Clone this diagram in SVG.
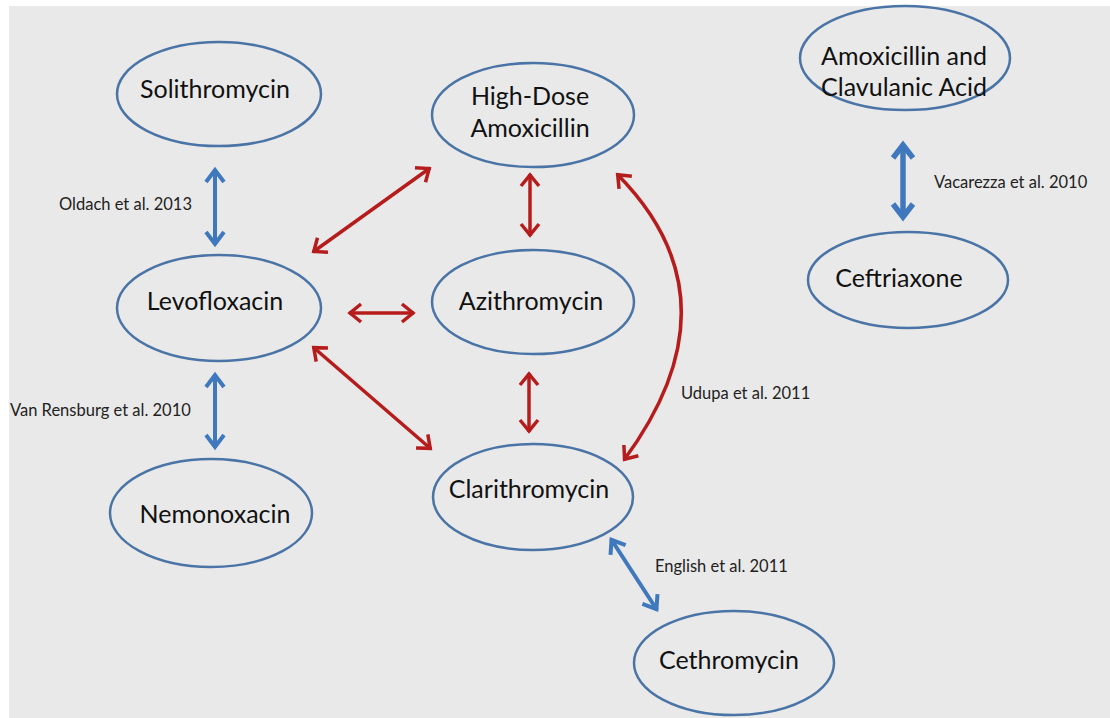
<svg xmlns="http://www.w3.org/2000/svg" width="1110" height="718" viewBox="0 0 1110 718">
<style>
.node ellipse{fill:none;stroke:#4a74a6;stroke-width:2.5}
.node text{font-family:Lato,"Open Sans",sans-serif;font-size:25px;fill:#111;text-anchor:middle}
.lbl{font-family:Lato,"Open Sans",sans-serif;font-size:16.5px;fill:#222}
.red{fill:none;stroke:#b71c1c;stroke-width:3.5}
.blue{fill:none;stroke:#3f78bd;stroke-width:4}
</style>
<defs>
<marker id="ar" markerUnits="userSpaceOnUse" markerWidth="30" markerHeight="30" refX="1" refY="0" orient="auto-start-reverse" overflow="visible">
<path d="M-11,-9 L0,0 L-11,9" fill="none" stroke="#b71c1c" stroke-width="3.5"/>
</marker>
<marker id="ab" markerUnits="userSpaceOnUse" markerWidth="30" markerHeight="30" refX="1" refY="0" orient="auto-start-reverse" overflow="visible">
<path d="M-12,-9 L0,0 L-12,9" fill="none" stroke="#3f78bd" stroke-width="4"/>
</marker>
<marker id="ab2" markerUnits="userSpaceOnUse" markerWidth="30" markerHeight="30" refX="1" refY="0" orient="auto-start-reverse" overflow="visible">
<path d="M-13,-10 L0,0 L-13,10" fill="none" stroke="#3f78bd" stroke-width="5.5"/>
</marker>
</defs>
<rect x="9" y="6" width="1101" height="712" fill="#e9e9e9"/>
<g id="connectors">
<line class="blue" x1="215" y1="169" x2="215" y2="245" marker-start="url(#ab)" marker-end="url(#ab)"/>
<line class="blue" x1="215" y1="374" x2="215" y2="448" marker-start="url(#ab)" marker-end="url(#ab)"/>
<line class="blue" style="stroke-width:5.5" x1="903" y1="144" x2="903" y2="218" marker-start="url(#ab2)" marker-end="url(#ab2)"/>
<line class="blue" x1="611" y1="539" x2="657" y2="610" marker-start="url(#ab)" marker-end="url(#ab)"/>
<line class="red" x1="313" y1="252" x2="430" y2="168" marker-start="url(#ar)" marker-end="url(#ar)"/>
<line class="red" x1="349" y1="313" x2="414" y2="313" marker-start="url(#ar)" marker-end="url(#ar)"/>
<line class="red" x1="313" y1="347" x2="431" y2="449" marker-start="url(#ar)" marker-end="url(#ar)"/>
<line class="red" x1="530" y1="174" x2="530" y2="236" marker-start="url(#ar)" marker-end="url(#ar)"/>
<line class="red" x1="529" y1="373" x2="529" y2="432" marker-start="url(#ar)" marker-end="url(#ar)"/>
<path class="red" d="M617,174 Q742,300 624,460" marker-start="url(#ar)" marker-end="url(#ar)"/>
<text class="lbl" x="59" y="210">Oldach et al. 2013</text>
<text class="lbl" x="10" y="416">Van Rensburg et al. 2010</text>
<text class="lbl" x="934" y="188">Vacarezza  et al. 2010</text>
<text class="lbl" x="681" y="399">Udupa et al. 2011</text>
<text class="lbl" x="655" y="572">English et al. 2011</text>
</g>
<g id="solithromycin" class="node"><ellipse cx="219" cy="94" rx="102" ry="52"/><text x="215" y="98">Solithromycin</text></g>
<g id="high-dose-amoxicillin" class="node"><ellipse cx="533" cy="115" rx="101" ry="52"/><text x="530" y="105">High-Dose</text><text x="530" y="137">Amoxicillin</text></g>
<g id="amoxicillin-clavulanic" class="node"><ellipse cx="905" cy="58" rx="105" ry="52"/><text x="904" y="65">Amoxicillin and</text><text x="904" y="96">Clavulanic Acid</text></g>
<g id="ceftriaxone" class="node"><ellipse cx="908" cy="280" rx="100" ry="48"/><text x="899" y="287">Ceftriaxone</text></g>
<g id="levofloxacin" class="node"><ellipse cx="219" cy="308" rx="102" ry="53"/><text x="215" y="310">Levofloxacin</text></g>
<g id="azithromycin" class="node"><ellipse cx="533" cy="302" rx="101" ry="52"/><text x="531" y="310">Azithromycin</text></g>
<g id="nemonoxacin" class="node"><ellipse cx="211" cy="513" rx="101" ry="54"/><text x="215" y="523">Nemonoxacin</text></g>
<g id="clarithromycin" class="node"><ellipse cx="533" cy="497" rx="100" ry="53"/><text x="529" y="498">Clarithromycin</text></g>
<g id="cethromycin" class="node"><ellipse cx="734" cy="663" rx="100" ry="52"/><text x="729" y="669">Cethromycin</text></g>
</svg>
